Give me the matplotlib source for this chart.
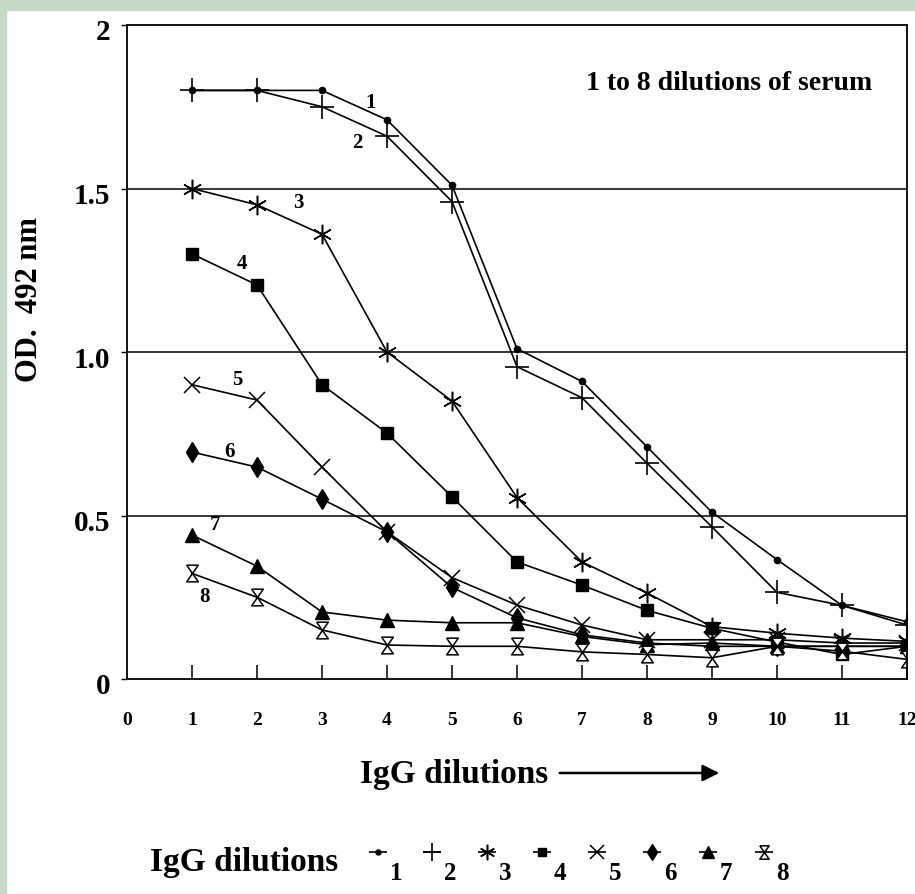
import numpy as np
import matplotlib
matplotlib.use('Agg')
import matplotlib.pyplot as plt
from matplotlib.path import Path
from matplotlib.patches import Rectangle, FancyArrowPatch
import matplotlib.transforms as mtransforms

plt.rcParams['font.family'] = ['Liberation Serif', 'DejaVu Serif']
plt.rcParams['font.weight'] = 'bold'

# dilution steps on the x axis
dilutions = np.arange(1, 13)

# OD 492 nm readings, one list per serum dilution
serum_1 = [1.80, 1.80, 1.80, 1.71, 1.51, 1.01, 0.91, 0.71, 0.51, 0.365, 0.225, 0.175]
serum_2 = [1.80, 1.80, 1.75, 1.66, 1.46, 0.955, 0.86, 0.66, 0.465, 0.265, 0.225, 0.165]
serum_3 = [1.50, 1.45, 1.36, 1.00, 0.85, 0.555, 0.358, 0.263, 0.16, 0.14, 0.125, 0.115]
serum_4 = [1.30, 1.205, 0.90, 0.752, 0.557, 0.358, 0.287, 0.21, 0.155, 0.113, 0.075, 0.10]
serum_5 = [0.90, 0.853, 0.648, 0.45, 0.31, 0.226, 0.165, 0.12, 0.12, 0.12, 0.11, 0.11]
serum_6 = [0.694, 0.648, 0.55, 0.45, 0.28, 0.187, 0.135, 0.11, 0.10, 0.10, 0.10, 0.10]
serum_7 = [0.44, 0.345, 0.205, 0.18, 0.172, 0.172, 0.13, 0.105, 0.11, 0.10, 0.10, 0.10]
serum_8 = [0.323, 0.25, 0.15, 0.104, 0.10, 0.10, 0.083, 0.075, 0.065, 0.10, 0.085, 0.06]

series = [serum_1, serum_2, serum_3, serum_4, serum_5, serum_6, serum_7, serum_8]
series_names = ['1', '2', '3', '4', '5', '6', '7', '8']
# where the little curve numbers sit (x, y in data units)
label_pos = [(3.74, 1.76), (3.54, 1.64), (2.63, 1.455), (1.77, 1.27),
             (1.69, 0.915), (1.58, 0.695), (1.35, 0.47), (1.2, 0.25)]

hourglass = Path([(-0.7, 1), (0.7, 1), (0, 0), (0.7, -1), (-0.7, -1), (0, 0), (-0.7, 1)])

styles = [
    dict(marker='o', ms=4.5, mfc='k'),
    dict(marker='+', ms=17, mew=1.2),
    dict(marker=(6, 2, 0), ms=14, mew=1.1),
    dict(marker='s', ms=8, mfc='k'),
    dict(marker='x', ms=12, mew=1.1),
    dict(marker='d', ms=10, mfc='k'),
    dict(marker='^', ms=10, mfc='k'),
    dict(marker=hourglass, ms=12, mfc='white', mew=1.1),
]

W, H = 915, 894
fig = plt.figure(figsize=(W / 100, H / 100), dpi=100, facecolor='white')


def fx(p):
    return p / W


def fy(p):
    return 1 - p / H


# pale green frame of the original scan
fig.patches.append(Rectangle((0, 0), fx(6), 1, transform=fig.transFigure,
                             color='#c8d8c8', zorder=0))
fig.patches.append(Rectangle((0, fy(10)), 1, 1 - fy(10), transform=fig.transFigure,
                             color='#c8d8c8', zorder=0))

ax = fig.add_axes([fx(127), fy(679), fx(907) - fx(127), fy(25) - fy(679)])

for vals, st in zip(series, styles):
    ax.plot(dilutions, vals, color='k', lw=1.2, mec='k', **st)

for name, (lx, ly) in zip(series_names, label_pos):
    ax.text(lx, ly, name, fontsize=15, ha='center', va='center')

ax.set_xlim(0, 12)
ax.set_ylim(0, 2)
for y in [0.5, 1.0, 1.5]:
    ax.axhline(y, color='k', lw=1.1, zorder=1)

ax.set_xticks(range(0, 13))
ax.set_xticklabels([str(i) for i in range(0, 13)], fontsize=14)
ax.tick_params(axis='x', direction='in', length=10, width=1.1, pad=24)
ax.xaxis.get_major_ticks()[0].tick1line.set_visible(False)
ax.set_yticks([0, 0.5, 1.0, 1.5, 2])
ax.set_yticklabels(['0', '0.5', '1.0', '1.5', '2'], fontsize=21)
ax.tick_params(axis='y', direction='out', length=4, width=1, pad=8)
shift = mtransforms.ScaledTranslation(0, -5 / 100, fig.dpi_scale_trans)
for lab in ax.get_yticklabels():
    lab.set_transform(lab.get_transform() + shift)
for sp in ax.spines.values():
    sp.set_linewidth(1.3)

fig.text(fx(30), fy(300), 'OD.  492 nm', fontsize=22, rotation=90,
         ha='center', va='center')

fig.text(fx(872), fy(84), '1 to 8 dilutions of serum', fontsize=20, ha='right', va='center')

# x axis title with its arrow
fig.text(fx(360), fy(775), 'IgG dilutions', fontsize=24, ha='left', va='center')
fig.patches.append(FancyArrowPatch(
    (fx(557), fy(773)), (fx(722), fy(773)), transform=fig.transFigure,
    arrowstyle='-|>', mutation_scale=25, color='k', lw=1.8))

# key row under the chart
fig.text(fx(150), fy(862), 'IgG dilutions', fontsize=24, ha='left', va='center')
lax = fig.add_axes([0, 0, 1, 1], facecolor='none')
lax.set_xlim(0, W)
lax.set_ylim(H, 0)
lax.axis('off')
key_x = [378, 432, 487, 542, 597, 652, 708, 764]
for kx, st, name in zip(key_x, styles, series_names):
    key_st = dict(st)
    key_st['ms'] = st['ms'] * 0.8
    lax.plot([kx - 9, kx + 9], [852, 852], color='k', lw=1.2, solid_capstyle='butt')
    lax.plot([kx], [852], color='k', mec='k', **key_st)
    lax.text(kx + 18, 874, name, fontsize=18, ha='center', va='center')

fig.savefig('out.png', dpi=100, facecolor='white')
